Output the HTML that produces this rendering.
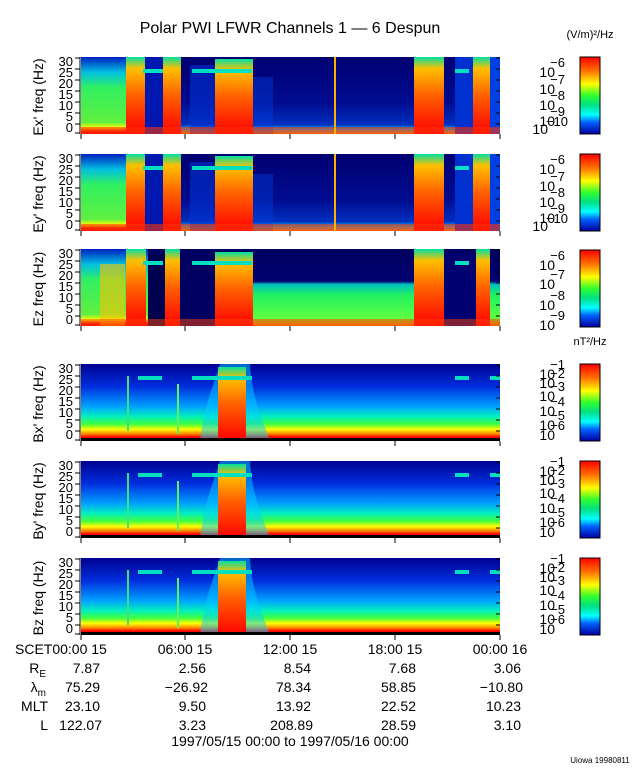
<!DOCTYPE html>
<html><head><meta charset="utf-8"><style>
body{margin:0;background:#fff;}
svg{display:block;font-family:"Liberation Sans",sans-serif;}
</style></head><body>
<svg width="640" height="768" viewBox="0 0 640 768" xmlns="http://www.w3.org/2000/svg">
<defs>
<linearGradient id="cb" x1="0" y1="0" x2="0" y2="1">
<stop offset="0" stop-color="#ff0000"/><stop offset="0.18" stop-color="#ff7000"/><stop offset="0.35" stop-color="#ffff00"/><stop offset="0.5" stop-color="#30ff30"/><stop offset="0.62" stop-color="#00e080"/><stop offset="0.75" stop-color="#00ffff"/><stop offset="0.85" stop-color="#0060ff"/><stop offset="1" stop-color="#0000a0"/>
</linearGradient>
<linearGradient id="bg" x1="0" y1="0" x2="0" y2="1">
<stop offset="0" stop-color="#000090"/><stop offset="0.3" stop-color="#0030e0"/><stop offset="0.55" stop-color="#00a0ff"/><stop offset="0.68" stop-color="#00f0c0"/><stop offset="0.78" stop-color="#40ff40"/><stop offset="0.85" stop-color="#ffff00"/><stop offset="0.91" stop-color="#ff8000"/><stop offset="0.95" stop-color="#ff0000"/><stop offset="1" stop-color="#ff0000"/>
</linearGradient>
<linearGradient id="eleft" x1="0" y1="0" x2="0" y2="1">
<stop offset="0" stop-color="#0020c0"/><stop offset="0.2" stop-color="#00c0e0"/><stop offset="0.4" stop-color="#30f060"/><stop offset="0.85" stop-color="#60f040"/><stop offset="0.92" stop-color="#ffff00"/><stop offset="0.97" stop-color="#ff0000"/>
</linearGradient>
<linearGradient id="edark" x1="0" y1="0" x2="0" y2="1">
<stop offset="0" stop-color="#000070"/><stop offset="0.6" stop-color="#000c90"/><stop offset="0.88" stop-color="#0030c0"/><stop offset="0.94" stop-color="#00c0ff"/><stop offset="1" stop-color="#ffa000"/>
</linearGradient>
<linearGradient id="ezmid" x1="0" y1="0" x2="0" y2="1">
<stop offset="0" stop-color="#000060"/><stop offset="0.42" stop-color="#000070"/><stop offset="0.46" stop-color="#00c0c0"/><stop offset="0.6" stop-color="#20f060"/><stop offset="0.9" stop-color="#60ff40"/><stop offset="1" stop-color="#ff8000"/>
</linearGradient>
<linearGradient id="hot" x1="0" y1="0" x2="0" y2="1">
<stop offset="0" stop-color="#00e0a0"/><stop offset="0.15" stop-color="#ffc000"/><stop offset="0.5" stop-color="#ff6000"/><stop offset="1" stop-color="#ff0000"/>
</linearGradient>
<g id="ep">
<rect x="81" y="0" width="419" height="77" fill="url(#edark)"/>
<rect x="81" y="0" width="45" height="77" fill="url(#eleft)"/>
<rect x="126" y="0" width="19" height="77" fill="url(#hot)"/>
<rect x="145" y="0" width="18" height="77" fill="#0018b0"/>
<rect x="163" y="0" width="18" height="77" fill="url(#hot)"/>
<rect x="190" y="8" width="25" height="69" fill="#0030d0" opacity="0.6"/>
<rect x="215" y="2" width="38" height="75" fill="url(#hot)"/>
<rect x="253" y="20" width="20" height="57" fill="#0040e0" opacity="0.4"/>
<rect x="414" y="0" width="30" height="77" fill="url(#hot)"/>
<rect x="455" y="0" width="18" height="77" fill="#0030d0"/>
<rect x="473" y="0" width="17" height="77" fill="url(#hot)"/>
<rect x="490" y="0" width="10" height="77" fill="#0040e0"/>
<rect x="81" y="70" width="419" height="7" fill="#ff3000" opacity="0.6"/>
<rect x="143" y="12" width="20" height="4" fill="#00e0c0"/>
<rect x="192" y="12" width="60" height="4" fill="#00e0c0"/>
<rect x="455" y="12" width="14" height="4" fill="#00e0c0"/>
<rect x="334" y="0" width="2" height="77" fill="#ffb000"/>
</g>
<g id="bp">
<rect x="81" y="0" width="419" height="77" fill="url(#bg)"/>
<path d="M200 77 C205 40 212 25 220 0 L250 0 C252 30 258 45 270 77 Z" fill="#00d0ff" opacity="0.5"/>
<rect x="218" y="3" width="28" height="74" fill="url(#hot)"/>
<rect x="138" y="12" width="24" height="4" fill="#00e0c0"/>
<rect x="192" y="12" width="60" height="4" fill="#00e0c0"/>
<rect x="455" y="12" width="14" height="4" fill="#00e0c0"/>
<rect x="490" y="12" width="10" height="4" fill="#00e0c0"/>
<rect x="127" y="12" width="2" height="55" fill="#40e080"/>
<rect x="177" y="20" width="2" height="50" fill="#60f060"/>
<rect x="81" y="74" width="419" height="3" fill="#000"/>
</g>
<g id="yl" font-size="13" text-anchor="end">
<text x="73" y="9">30</text><text x="73" y="20">25</text><text x="73" y="31">20</text><text x="73" y="42">15</text><text x="73" y="53">10</text><text x="73" y="64">5</text><text x="73" y="75">0</text>
<path d="M75 1 h5 M75 12 h5 M75 23 h5 M75 34 h5 M75 45 h5 M75 56 h5 M75 67 h5 M75 76 h5" stroke="#000"/>
<path d="M500 1 h-4 M500 12 h-4 M500 23 h-4 M500 34 h-4 M500 45 h-4 M500 56 h-4 M500 67 h-4" stroke="#000"/>
<path d="M81 77 v5 M185 77 v5 M290 77 v5 M395 77 v5 M500 77 v5 M80 0 v77" stroke="#000" fill="none"/>
</g>
<g id="ecl" font-size="14" text-anchor="end">
<text x="555" y="20">10</text><text x="565" y="10" font-size="13">−6</text>
<text x="555" y="37">10</text><text x="565" y="27" font-size="13">−7</text>
<text x="555" y="53">10</text><text x="565" y="43" font-size="13">−8</text>
<text x="555" y="69">10</text><text x="565" y="59" font-size="13">−9</text>
<text x="548" y="77">10</text><text x="568" y="69" font-size="13">−10</text>
</g>
<g id="bcl" font-size="14" text-anchor="end">
<text x="555" y="15">10</text><text x="565" y="5" font-size="13">−1</text>
<text x="555" y="24">10</text><text x="565" y="14" font-size="13">−2</text>
<text x="555" y="37">10</text><text x="565" y="27" font-size="13">−3</text>
<text x="555" y="52">10</text><text x="565" y="42" font-size="13">−4</text>
<text x="555" y="66">10</text><text x="565" y="56" font-size="13">−5</text>
<text x="555" y="76">10</text><text x="565" y="66" font-size="13">−6</text>
</g>
</defs>
<rect width="640" height="768" fill="#fff"/>
<text x="290" y="33" font-size="16" text-anchor="middle">Polar PWI LFWR Channels 1 — 6 Despun</text>
<text x="590" y="38" font-size="11" text-anchor="middle">(V/m)²/Hz</text>
<text x="590" y="345" font-size="11" text-anchor="middle">nT²/Hz</text>

<use href="#ep" y="57"/>
<use href="#ep" y="154"/>
<g transform="translate(0,249)">
<rect x="81" y="0" width="419" height="77" fill="url(#ezmid)"/>
<rect x="81" y="0" width="67" height="77" fill="url(#eleft)"/>
<rect x="100" y="15" width="25" height="62" fill="#ffc000" opacity="0.6"/>
<rect x="126" y="0" width="20" height="77" fill="url(#hot)"/>
<rect x="148" y="5" width="17" height="72" fill="#000050"/>
<rect x="165" y="0" width="15" height="77" fill="url(#hot)"/>
<rect x="180" y="5" width="35" height="72" fill="#000060"/>
<rect x="215" y="3" width="38" height="74" fill="url(#hot)"/>
<rect x="414" y="0" width="30" height="77" fill="url(#hot)"/>
<rect x="444" y="5" width="32" height="72" fill="#000070"/>
<rect x="476" y="0" width="14" height="77" fill="url(#hot)"/>
<rect x="81" y="70" width="419" height="7" fill="#ff4000" opacity="0.5"/>
<rect x="143" y="12" width="20" height="4" fill="#00e0c0"/>
<rect x="192" y="12" width="60" height="4" fill="#00e0c0"/>
<rect x="455" y="12" width="14" height="4" fill="#00e0c0"/>
</g>
<use href="#bp" y="364"/>
<use href="#bp" y="461"/>
<use href="#bp" y="558"/>

<use href="#yl" y="57"/><use href="#yl" y="154"/><use href="#yl" y="249"/><use href="#yl" y="364"/><use href="#yl" y="461"/><use href="#yl" y="558"/>
<g font-size="14" text-anchor="middle">
<text transform="translate(43,97) rotate(-90)">Ex' freq (Hz)</text>
<text transform="translate(43,194) rotate(-90)">Ey' freq (Hz)</text>
<text transform="translate(43,289) rotate(-90)">Ez freq (Hz)</text>
<text transform="translate(43,404) rotate(-90)">Bx' freq (Hz)</text>
<text transform="translate(43,501) rotate(-90)">By' freq (Hz)</text>
<text transform="translate(43,598) rotate(-90)">Bz freq (Hz)</text>
</g>

<g stroke="#000" stroke-width="1">
<rect x="580" y="57" width="20" height="77" fill="url(#cb)"/>
<rect x="580" y="154" width="20" height="77" fill="url(#cb)"/>
<rect x="580" y="250" width="20" height="77" fill="url(#cb)"/>
<rect x="580" y="364" width="20" height="77" fill="url(#cb)"/>
<rect x="580" y="461" width="20" height="77" fill="url(#cb)"/>
<rect x="580" y="558" width="20" height="77" fill="url(#cb)"/>
</g>
<use href="#ecl" y="57"/><use href="#ecl" y="154"/>
<g font-size="14" text-anchor="end">
<text x="555" y="270">10</text><text x="565" y="260" font-size="13">−6</text>
<text x="555" y="289">10</text><text x="565" y="279" font-size="13">−7</text>
<text x="555" y="310">10</text><text x="565" y="300" font-size="13">−8</text>
<text x="555" y="330">10</text><text x="565" y="320" font-size="13">−9</text>
</g>
<use href="#bcl" y="364"/><use href="#bcl" y="461"/><use href="#bcl" y="558"/>

<g font-size="14">
<text x="15" y="654">SCET00:00 15</text>
<text x="185" y="654" text-anchor="middle">06:00 15</text>
<text x="290" y="654" text-anchor="middle">12:00 15</text>
<text x="395" y="654" text-anchor="middle">18:00 15</text>
<text x="500" y="654" text-anchor="middle">00:00 16</text>
<g text-anchor="end">
<text x="46" y="673">R<tspan font-size="10" dy="4">E</tspan></text>
<text x="46" y="692">λ<tspan font-size="10" dy="4">m</tspan></text>
<text x="48" y="711">MLT</text>
<text x="48" y="730">L</text>
<text x="100" y="673">7.87</text><text x="100" y="692">75.29</text><text x="100" y="711">23.10</text><text x="102" y="730">122.07</text>
<text x="206" y="673">2.56</text><text x="208" y="692">−26.92</text><text x="206" y="711">9.50</text><text x="206" y="730">3.23</text>
<text x="311" y="673">8.54</text><text x="311" y="692">78.34</text><text x="311" y="711">13.92</text><text x="313" y="730">208.89</text>
<text x="416" y="673">7.68</text><text x="416" y="692">58.85</text><text x="416" y="711">22.52</text><text x="416" y="730">28.59</text>
<text x="521" y="673">3.06</text><text x="523" y="692">−10.80</text><text x="521" y="711">10.23</text><text x="521" y="730">3.10</text>
</g>
<text x="290" y="746" text-anchor="middle">1997/05/15 00:00 to 1997/05/16 00:00</text>
</g>
<text x="600" y="763" font-size="8" text-anchor="middle">Uiowa 19980811</text>
</svg>
</body></html>
